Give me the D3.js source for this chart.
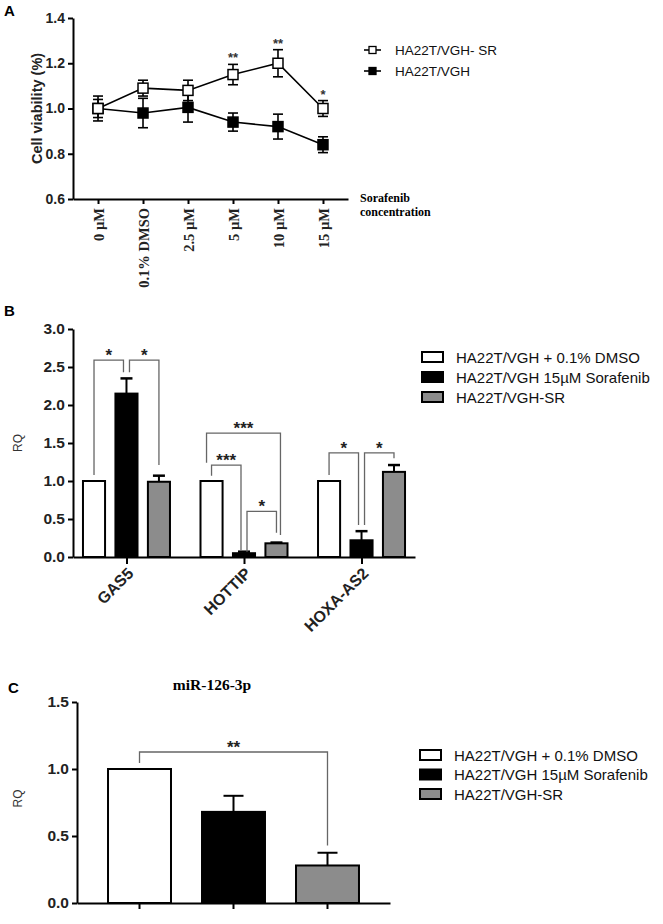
<!DOCTYPE html>
<html>
<head>
<meta charset="utf-8">
<script src="https://cdn.jsdelivr.net/npm/d3@7"></script>
<style>
  body { margin: 0; background: #fff; }
  svg text { font-family: "Liberation Sans", Arial, sans-serif; }
  .serif { font-family: "Liberation Serif", "Times New Roman", serif !important; }
</style>
</head>
<body>
<svg id="chart" width="663" height="924"></svg>
<script>
// Panel A data
const doses = ["0 µM", "0.1% DMSO", "2.5 µM", "5 µM", "10 µM", "15 µM"];
const srMean = [1.00, 1.09, 1.08, 1.15, 1.20, 1.00];
const srErr = [0.04, 0.035, 0.045, 0.045, 0.06, 0.035];
const vghMean = [1.00, 0.98, 1.005, 0.94, 0.92, 0.84];
const vghErr = [0.055, 0.065, 0.065, 0.04, 0.055, 0.035];
const doseStars = ["", "", "", "**", "**", "*"];
const lineSeries = ["HA22T/VGH- SR", "HA22T/VGH"];

// Panel B data
const genes = ["GAS5", "HOTTIP", "HOXA-AS2"];
const groups = ["HA22T/VGH + 0.1% DMSO", "HA22T/VGH 15µM Sorafenib", "HA22T/VGH-SR"];
const dmsoRQ = [1.0, 1.0, 1.0];
const dmsoErr = [0, 0, 0];
const sorafRQ = [2.15, 0.05, 0.22];
const sorafErr = [0.20, 0.02, 0.12];
const srRQ = [0.99, 0.18, 1.12];
const srErrB = [0.08, 0.01, 0.09];
// brackets: gene, from group, to group, top, left leg bottom, right leg bottom, label
const geneBrackets = [
  ["GAS5", 0, 1, 2.59, 1.08, 2.43, "*"],
  ["GAS5", 1, 2, 2.59, 2.43, 1.21, "*"],
  ["HOTTIP", 0, 2, 1.63, 1.24, 0.29, "***"],
  ["HOTTIP", 0, 1, 1.21, 1.07, 0.09, "***"],
  ["HOTTIP", 1, 2, 0.60, 0.07, 0.32, "*"],
  ["HOXA-AS2", 0, 1, 1.37, 1.08, 0.42, "*"],
  ["HOXA-AS2", 1, 2, 1.37, 0.42, 1.30, "*"]
];

// Panel C data
const mirRQ = [1.0, 0.68, 0.28];
const mirErr = [0, 0.12, 0.095];
const mirBracket = [0, 2, 1.127, 1.045, 0.43, "**"];

const fills = ["#ffffff", "#000000", "#8c8c8c"];
const svg = d3.select("#chart");

function styleAxis(g) {
  g.selectAll(".domain").attr("stroke", "#000").attr("stroke-width", 2);
  g.selectAll(".tick line").attr("stroke", "#000").attr("stroke-width", 2);
}

// ---------------- Panel A ----------------
const ax = d3.scalePoint().domain(doses).range([73, 348]).padding(0.556);
const ay = d3.scaleLinear().domain([0.6, 1.4]).range([199, 18]);

svg.append("text").attr("x", 4).attr("y", 16)
  .attr("font-size", 15).attr("font-weight", "bold").text("A");

const aYAxis = svg.append("g").attr("transform", "translate(73,0)")
  .call(d3.axisLeft(ay).tickValues([0.6, 0.8, 1.0, 1.2, 1.4]).tickFormat(d3.format(".1f")).tickSize(5).tickSizeOuter(0));
styleAxis(aYAxis);
aYAxis.selectAll("text").attr("font-size", 14).attr("font-weight", "bold").attr("fill", "#222");

const aXAxis = svg.append("g").attr("transform", "translate(0,199)")
  .call(d3.axisBottom(ax).tickSize(5).tickSizeOuter(0));
styleAxis(aXAxis);
aXAxis.selectAll("text")
  .attr("class", "serif")
  .attr("font-size", 14.5).attr("font-weight", "bold").attr("fill", "#222")
  .attr("text-anchor", "end")
  .attr("transform", "rotate(-90)")
  .attr("x", -9).attr("y", 0).attr("dy", "0.35em");

svg.append("text").attr("class", "serif").attr("x", 360).attr("y", 202)
  .attr("font-size", 12).attr("font-weight", "bold").text("Sorafenib");
svg.append("text").attr("class", "serif").attr("x", 360).attr("y", 216)
  .attr("font-size", 12).attr("font-weight", "bold").text("concentration");

svg.append("text")
  .attr("transform", `translate(42,${(ay(0.6) + ay(1.4)) / 2}) rotate(-90)`)
  .attr("text-anchor", "middle").attr("font-size", 14.5).attr("font-weight", "bold")
  .attr("fill", "#222").text("Cell viability (%)");

function drawSeries(mean, err, open) {
  const g = svg.append("g");
  const line = d3.line().x((d, i) => ax(doses[i])).y(d => ay(d));
  g.append("path").datum(mean).attr("d", line)
    .attr("fill", "none").attr("stroke", "#000").attr("stroke-width", 1.6);
  const eb = g.selectAll(".eb").data(mean).enter().append("g");
  eb.append("line")
    .attr("x1", (d, i) => ax(doses[i])).attr("x2", (d, i) => ax(doses[i]))
    .attr("y1", (d, i) => ay(d + err[i])).attr("y2", (d, i) => ay(d - err[i]))
    .attr("stroke", "#000").attr("stroke-width", 1.6);
  [1, -1].forEach(s => {
    eb.append("line")
      .attr("x1", (d, i) => ax(doses[i]) - 5).attr("x2", (d, i) => ax(doses[i]) + 5)
      .attr("y1", (d, i) => ay(d + s * err[i])).attr("y2", (d, i) => ay(d + s * err[i]))
      .attr("stroke", "#000").attr("stroke-width", 1.6);
  });
  g.selectAll(".mk").data(mean).enter().append("rect")
    .attr("x", (d, i) => ax(doses[i]) - 5).attr("y", d => ay(d) - 5)
    .attr("width", 10).attr("height", 10)
    .attr("fill", open ? "#fff" : "#000").attr("stroke", "#000").attr("stroke-width", 1.5);
}
drawSeries(vghMean, vghErr, false);
drawSeries(srMean, srErr, true);

svg.selectAll(".astar").data(doses).enter().append("text")
  .attr("x", d => ax(d)).attr("y", (d, i) => ay(srMean[i] + srErr[i]) - 2)
  .attr("text-anchor", "middle").attr("font-size", 13).attr("font-weight", "bold").attr("fill", "#333")
  .text((d, i) => doseStars[i]);

const legA = svg.append("g");
lineSeries.forEach((name, i) => {
  const y = 50 + i * 21;
  legA.append("line").attr("x1", 364).attr("x2", 381).attr("y1", y).attr("y2", y)
    .attr("stroke", "#000").attr("stroke-width", 1.6);
  legA.append("rect").attr("x", 369).attr("y", y - 3.5).attr("width", 7).attr("height", 7)
    .attr("fill", i === 0 ? "#fff" : "#000").attr("stroke", "#000").attr("stroke-width", 1.3);
  legA.append("text").attr("x", 395).attr("y", y + 5).attr("font-size", 13.5).attr("fill", "#111").text(name);
});

// ---------------- Bar panels ----------------
function barLegend(x, y0, step) {
  const g = svg.append("g");
  groups.forEach((name, i) => {
    const y = y0 + i * step;
    g.append("rect").attr("x", x).attr("y", y - 5).attr("width", 21).attr("height", 10)
      .attr("fill", fills[i]).attr("stroke", "#000").attr("stroke-width", 2);
    g.append("text").attr("x", x + 34).attr("y", y + 5.5).attr("font-size", 15).attr("fill", "#111").text(name);
  });
}

function bracket(x1, x2, yTop, yL, yR, label) {
  svg.append("path")
    .attr("d", `M${x1},${yL}V${yTop}H${x2}V${yR}`)
    .attr("fill", "none").attr("stroke", "#666").attr("stroke-width", 1.3);
  svg.append("text").attr("x", (x1 + x2) / 2).attr("y", yTop + 1)
    .attr("text-anchor", "middle").attr("font-size", 17).attr("font-weight", "bold").attr("fill", "#222")
    .text(label);
}

// ---------------- Panel B ----------------
const bx = d3.scalePoint().domain(genes).range([73, 415]).padding(0.455);
const bInner = d3.scaleBand().domain(groups).range([-43.5, 43.5]).paddingInner(0.32).paddingOuter(0);
const by = d3.scaleLinear().domain([0, 3]).range([557, 329]);

svg.append("text").attr("x", 4).attr("y", 316)
  .attr("font-size", 15).attr("font-weight", "bold").text("B");

const bYAxis = svg.append("g").attr("transform", "translate(73,0)")
  .call(d3.axisLeft(by).tickValues([0, 0.5, 1, 1.5, 2, 2.5, 3]).tickFormat(d3.format(".1f")).tickSize(5).tickSizeOuter(0));
styleAxis(bYAxis);
bYAxis.selectAll("text").attr("font-size", 15.5).attr("font-weight", "bold").attr("fill", "#222");

svg.append("text")
  .attr("transform", `translate(22,${(by(0) + by(3)) / 2}) rotate(-90)`)
  .attr("text-anchor", "middle").attr("font-size", 12).attr("fill", "#333").text("RQ");

const bVals = [dmsoRQ, sorafRQ, srRQ];
const bErrs = [dmsoErr, sorafErr, srErrB];
const bBars = [];
genes.forEach((gene, gi) => {
  groups.forEach((grp, k) => {
    bBars.push({ gene, grp, k, v: bVals[k][gi], e: bErrs[k][gi] });
  });
});
const bw = bInner.bandwidth();
const bCenter = d => bx(d.gene) + bInner(d.grp) + bw / 2;

// error bars (upper only) drawn behind
const bEb = svg.append("g").selectAll("g").data(bBars.filter(d => d.e > 0)).enter().append("g");
bEb.append("line").attr("x1", bCenter).attr("x2", bCenter)
  .attr("y1", d => by(d.v)).attr("y2", d => by(d.v + d.e))
  .attr("stroke", "#000").attr("stroke-width", 2);
bEb.append("line").attr("x1", d => bCenter(d) - 6).attr("x2", d => bCenter(d) + 6)
  .attr("y1", d => by(d.v + d.e)).attr("y2", d => by(d.v + d.e))
  .attr("stroke", "#000").attr("stroke-width", 2.5);

svg.append("g").selectAll("rect").data(bBars).enter().append("rect")
  .attr("x", d => bx(d.gene) + bInner(d.grp)).attr("width", bw)
  .attr("y", d => by(d.v)).attr("height", d => by(0) - by(d.v))
  .attr("fill", d => fills[d.k]).attr("stroke", "#000").attr("stroke-width", 2);

const bXAxis = svg.append("g").attr("transform", `translate(0,${by(0)})`)
  .call(d3.axisBottom(bx).tickSize(7).tickSizeOuter(0));
styleAxis(bXAxis);
bXAxis.selectAll("text")
  .attr("font-size", 16).attr("font-weight", "bold").attr("fill", "#222")
  .attr("text-anchor", "end")
  .attr("transform", "rotate(-45)")
  .attr("x", -7).attr("y", 12).attr("dy", "0.35em");

// bracket legs at the middle bar sit just beside its centre, outer wide brackets sit outside
const legNudge = (k, other, wide) => wide ? (k < other ? -5 : 4) : (k === 1 ? (k < other ? 3 : -3) : 0);
geneBrackets.forEach(([gene, a, b, top, lb, rb, label]) => {
  const wide = (b - a) === 2;
  const xa = bx(gene) + bInner(groups[a]) + bw / 2 + legNudge(a, b, wide);
  const xb = bx(gene) + bInner(groups[b]) + bw / 2 + legNudge(b, a, wide);
  bracket(xa, xb, by(top), by(lb), by(rb), label);
});

barLegend(422, 357, 20);

// ---------------- Panel C ----------------
const cx = d3.scaleBand().domain(groups).range([77, 390]).paddingInner(0.33).paddingOuter(0.33);
const cy = d3.scaleLinear().domain([0, 1.5]).range([903, 702]);

svg.append("text").attr("x", 8).attr("y", 693)
  .attr("font-size", 15).attr("font-weight", "bold").text("C");
svg.append("text").attr("class", "serif").attr("x", 212).attr("y", 690)
  .attr("text-anchor", "middle").attr("font-size", 15.5).attr("font-weight", "bold").text("miR-126-3p");

const cYAxis = svg.append("g").attr("transform", "translate(77,0)")
  .call(d3.axisLeft(cy).tickValues([0, 0.5, 1, 1.5]).tickFormat(d3.format(".1f")).tickSize(5).tickSizeOuter(0));
styleAxis(cYAxis);
cYAxis.selectAll("text").attr("font-size", 15.5).attr("font-weight", "bold").attr("fill", "#222");

svg.append("text")
  .attr("transform", `translate(22,${(cy(0) + cy(1.5)) / 2 - 4}) rotate(-90)`)
  .attr("text-anchor", "middle").attr("font-size", 12).attr("fill", "#333").text("RQ");

const cBars = groups.map((grp, k) => ({ grp, k, v: mirRQ[k], e: mirErr[k] }));
const cw = cx.bandwidth();
const cCenter = d => cx(d.grp) + cw / 2;

const cEb = svg.append("g").selectAll("g").data(cBars.filter(d => d.e > 0)).enter().append("g");
cEb.append("line").attr("x1", cCenter).attr("x2", cCenter)
  .attr("y1", d => cy(d.v)).attr("y2", d => cy(d.v + d.e))
  .attr("stroke", "#000").attr("stroke-width", 2);
cEb.append("line").attr("x1", d => cCenter(d) - 10).attr("x2", d => cCenter(d) + 10)
  .attr("y1", d => cy(d.v + d.e)).attr("y2", d => cy(d.v + d.e))
  .attr("stroke", "#000").attr("stroke-width", 2);

svg.append("g").selectAll("rect").data(cBars).enter().append("rect")
  .attr("x", d => cx(d.grp)).attr("width", cw)
  .attr("y", d => cy(d.v)).attr("height", d => cy(0) - cy(d.v))
  .attr("fill", d => fills[d.k]).attr("stroke", "#000").attr("stroke-width", 2);

const cXAxis = svg.append("g").attr("transform", `translate(0,${cy(0)})`)
  .call(d3.axisBottom(cx).tickSize(6).tickSizeOuter(0).tickFormat(""));
styleAxis(cXAxis);

{
  const [a, b, top, lb, rb, label] = mirBracket;
  bracket(cx(groups[a]) + cw / 2, cx(groups[b]) + cw / 2, cy(top), cy(lb), cy(rb), label);
}

barLegend(420, 755, 19.5);
</script>
</body>
</html>
